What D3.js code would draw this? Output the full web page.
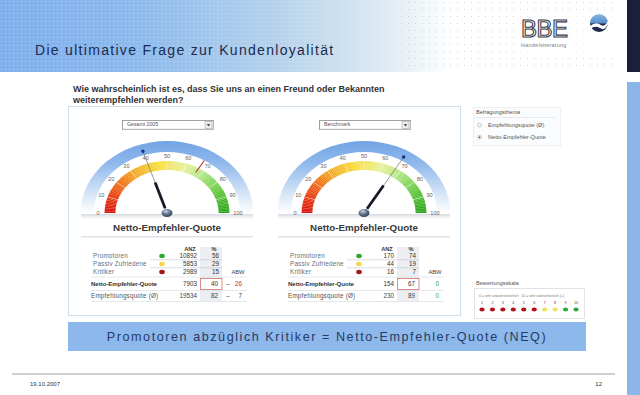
<!DOCTYPE html>
<html><head><meta charset="utf-8">
<script src="https://cdn.jsdelivr.net/npm/d3@7"></script>
<style>html,body{margin:0;padding:0;background:#fff;}svg{display:block;font-family:"Liberation Sans",Arial,sans-serif;}</style>
</head><body>
<svg id="c" width="640" height="395"></svg>
<script>
// ---------- data ----------
const slideTitle = "Die ultimative Frage zur Kundenloyalität";
const questionLines = ["Wie wahrscheinlich ist es, dass Sie uns an einen Freund oder Bekannten", "weiterempfehlen werden?"];
const dropdownLabels = ["Gesamt 2005", "Benchmark"];
const gaugeTitle = "Netto-Empfehler-Quote";
const gaugeTicks = [0, 10, 20, 30, 40, 50, 60, 70, 80, 90, 100];
const needleValues = [40, 67];
const markerValues = [67, null];
const segments = ["Promotoren", "Passiv Zufriedene", "Kritiker"];
const segmentColors = ["#2ea836", "#f2d84a", "#a3161a"];
const anzValues = [[10892, 5853, 2989], [170, 44, 16]];
const pctValues = [[56, 29, 15], [74, 19, 7]];
const neqAnz = [7903, 154];
const neqPct = [40, 67];
const neqAbw = [-26, 0];
const empfAnz = [19534, 230];
const empfPct = [82, 89];
const empfAbw = [-7, 0];
const themeOptions = ["Empfehlungsquote (Ø)", "Netto-Empfehler-Quote"];
const themeSelected = 1;
const scaleNumbers = [1, 2, 3, 4, 5, 6, 7, 8, 9, 10];
const scaleDotColors = ["#b0121a","#b0121a","#b0121a","#b0121a","#b0121a","#b0121a","#eee35a","#eee35a","#2ea836","#2ea836"];
const bannerText = "Promotoren abzüglich Kritiker = Netto-Empfehler-Quote (NEQ)";
const footerDate = "19.10.2007";
const pageNumber = "12";

// ---------- layout ----------
const svg = d3.select("#c");
const defs = svg.append("defs");

// header gradient
const hg = defs.append("linearGradient").attr("id","hg").attr("x1",0).attr("x2",1).attr("y1",0).attr("y2",0);
[[0,"#80afea"],[0.22,"#8ebaec"],[0.45,"#b8d3ea"],[0.62,"#e0ecf4"],[0.72,"#ffffff"]].forEach(s=>hg.append("stop").attr("offset",s[0]).attr("stop-color",s[1]));
const dp = defs.append("pattern").attr("id","dots").attr("width",4).attr("height",4).attr("patternUnits","userSpaceOnUse");
dp.append("rect").attr("x",1).attr("y",1).attr("width",1).attr("height",1).attr("fill","#ffffff").attr("opacity",0.35);
const dp2 = defs.append("pattern").attr("id","dots2").attr("width",7).attr("height",7).attr("patternUnits","userSpaceOnUse");
dp2.append("rect").attr("x",2).attr("y",2).attr("width",1).attr("height",1).attr("fill","#b8c4d0").attr("opacity",0.7);

svg.append("rect").attr("x",0).attr("y",0).attr("width",627).attr("height",72).attr("fill","url(#hg)");
svg.append("rect").attr("x",0).attr("y",0).attr("width",330).attr("height",72).attr("fill","url(#dots)");
svg.append("rect").attr("x",400).attr("y",0).attr("width",215).attr("height",72).attr("fill","url(#dots2)");
svg.append("rect").attr("x",627).attr("y",0).attr("width",13).attr("height",72).attr("fill","#1b203a");
svg.append("rect").attr("x",627).attr("y",82).attr("width",13).attr("height",313).attr("fill","#8ab6ea");

svg.append("text").attr("x",35).attr("y",55).attr("font-size",14).attr("letter-spacing",1.3)
  .attr("fill","#1c2b4e").text(slideTitle);

// logo
const logo = svg.append("g");
logo.append("rect").attr("x",518).attr("y",14).attr("width",96).attr("height",38).attr("fill","#ffffff").attr("opacity",0.6);
logo.append("text").attr("x",521).attr("y",37).attr("font-size",24).attr("fill","none").attr("stroke","#3a3d4c")
  .attr("stroke-width",1.1).attr("letter-spacing",-0.5).text("BBE");
logo.append("text").attr("x",521).attr("y",47).attr("font-size",5.4).attr("fill","#7a7d88").attr("letter-spacing",0.3).text("Handelsberatung");
const lg = defs.append("linearGradient").attr("id","lg").attr("x1",0).attr("x2",0).attr("y1",0).attr("y2",1);
lg.append("stop").attr("offset",0).attr("stop-color","#86b8e8");
lg.append("stop").attr("offset",0.5).attr("stop-color","#5b8fcc");
lg.append("stop").attr("offset",0.55).attr("stop-color","#1e2a4a");
lg.append("stop").attr("offset",1).attr("stop-color","#1e2a4a");
logo.append("circle").attr("cx",599).attr("cy",23).attr("r",9).attr("fill","url(#lg)");
logo.append("path").attr("d","M590,26 Q596,21 601,25 Q605,28 609,19 L609,22 Q605,32 600,28 Q595,25 590,29 Z").attr("fill","#ffffff");

// question
questionLines.forEach((t,i)=>svg.append("text").attr("x",73).attr("y",92+i*11).attr("font-size",9)
  .attr("font-weight","bold").attr("fill","#333").text(t));

// main panel
svg.append("rect").attr("x",68.5).attr("y",106.5).attr("width",392).attr("height",209).attr("fill","#fff")
  .attr("stroke","#cfdde8").attr("stroke-width",1);

// ---------- gauges ----------
const sx = 1.2;
const ang = d3.scaleLinear().domain([0,100]).range([-Math.PI/2, Math.PI/2]);
const colorScale = d3.scaleLinear().domain([0,10,20,30,45,60,70,85,100])
  .range(["#d8120e","#e63a10","#ef6a16","#f4a424","#f7de3c","#e8f19a","#b4e888","#62c83c","#2aa41c"]);
const pt = (v,r)=>[Math.sin(ang(v))*r*sx, -Math.cos(ang(v))*r];

const bg = defs.append("linearGradient").attr("id","bluearc").attr("gradientUnits","userSpaceOnUse")
  .attr("x1",0).attr("x2",0).attr("y1",-72).attr("y2",0);
[[0,"#72a4e4"],[0.3,"#8eb8ec"],[0.7,"#d0e2f6"],[1,"#ffffff"]].forEach(s=>bg.append("stop").attr("offset",s[0]).attr("stop-color",s[1]));
const baseG = defs.append("linearGradient").attr("id","baseg").attr("x1",0).attr("x2",0).attr("y1",0).attr("y2",1);
baseG.append("stop").attr("offset",0).attr("stop-color","#d6dbe0");
baseG.append("stop").attr("offset",1).attr("stop-color","#ffffff");
const hubG = defs.append("radialGradient").attr("id","hubg").attr("cx",0.4).attr("cy",0.3).attr("r",0.8);
hubG.append("stop").attr("offset",0).attr("stop-color","#c8d4e2");
hubG.append("stop").attr("offset",0.5).attr("stop-color","#5a6c84");
hubG.append("stop").attr("offset",1).attr("stop-color","#2c3648");

const gaugeCx = [167, 364];
const cy = 213;
const arc = d3.arc();

gaugeCx.forEach((cx, gi)=>{
  const g = svg.append("g");
  // dropdown
  const dx = cx - 45, dy = 120;
  g.append("rect").attr("x",dx+0.5).attr("y",dy+0.5).attr("width",91).attr("height",9).attr("fill","#fff")
    .attr("stroke","#8a8a8a").attr("stroke-width",0.8);
  g.append("path").attr("d",`M${dx+1},${dy+9} H${dx+91} V${dy+1}`).attr("fill","none").attr("stroke","#dcdcdc").attr("stroke-width",0.8);
  g.append("text").attr("x",dx+5).attr("y",dy+6.3).attr("font-size",5.2).attr("fill","#555").text(dropdownLabels[gi]);
  g.append("rect").attr("x",dx+83).attr("y",dy+1.5).attr("width",7).attr("height",7).attr("fill","#ececec").attr("stroke","#9a9a9a").attr("stroke-width",0.5);
  g.append("path").attr("d",`M${dx+84.8},${dy+4.3} h3.4 l-1.7,2 z`).attr("fill","#222");

  // base shading
  g.append("rect").attr("x",cx-86).attr("y",cy+1).attr("width",172).attr("height",5).attr("fill","url(#baseg)");

  const s = g.append("g").attr("transform",`translate(${cx},${cy}) scale(${sx},1)`);
  // blue outer band
  s.append("path").attr("d",arc({innerRadius:61,outerRadius:72,startAngle:-Math.PI/2,endAngle:Math.PI/2})).attr("fill","url(#bluearc)");
  // color band
  const steps = d3.range(0,100,1);
  s.selectAll(".seg").data(steps).join("path")
    .attr("d",v=>arc({innerRadius:43,outerRadius:52,startAngle:ang(v),endAngle:ang(v+1.05)}))
    .attr("fill",v=>colorScale(v+0.5));
  // separators
  s.selectAll(".sep").data(gaugeTicks.slice(1,-1)).join("line")
    .attr("x1",v=>pt(v,43)[0]/sx).attr("y1",v=>pt(v,43)[1])
    .attr("x2",v=>pt(v,52)[0]/sx).attr("y2",v=>pt(v,52)[1])
    .attr("stroke","#fff").attr("stroke-width",0.6).attr("vector-effect","non-scaling-stroke").attr("opacity",0.8);
  // marker
  if (markerValues[gi] != null) {
    const m = markerValues[gi];
    s.append("line").attr("x1",pt(m,47)[0]/sx).attr("y1",pt(m,47)[1]).attr("x2",pt(m,61)[0]/sx).attr("y2",pt(m,61)[1])
      .attr("stroke","#b8322e").attr("stroke-width",1.1).attr("vector-effect","non-scaling-stroke");
  }
  // tick labels
  g.selectAll(".tl").data(gaugeTicks).join("text")
    .attr("x",v=>cx+pt(v,57.5)[0] + (v===100?2:0)).attr("y",v=>cy+pt(v,57.5)[1]+2)
    .attr("text-anchor","middle").attr("font-size",5.6).attr("fill","#666").text(d=>d);
  // needle
  const nv = needleValues[gi];
  s.append("line").attr("x1",0).attr("y1",0).attr("x2",pt(nv,65)[0]/sx).attr("y2",pt(nv,65)[1])
    .attr("stroke","#555").attr("stroke-width",0.6).attr("vector-effect","non-scaling-stroke");
  s.append("line").attr("x1",pt(nv,5)[0]/sx).attr("y1",pt(nv,5)[1]).attr("x2",pt(nv,32)[0]/sx).attr("y2",pt(nv,32)[1])
    .attr("stroke","#151a24").attr("stroke-width",2.8).attr("vector-effect","non-scaling-stroke");
  g.append("circle").attr("cx",cx+pt(nv,65)[0]).attr("cy",cy+pt(nv,65)[1]).attr("r",1.7).attr("fill","#1a3080");
  g.append("ellipse").attr("cx",cx).attr("cy",cy).attr("rx",5.5).attr("ry",4).attr("fill","url(#hubg)");

  // gauge title
  g.append("text").attr("x",cx).attr("y",231).attr("text-anchor","middle").attr("font-size",9.8).attr("font-weight","bold")
    .attr("fill","#3a3a3a").text(gaugeTitle);
  g.append("rect").attr("x",cx-86).attr("y",236).attr("width",172).attr("height",2.5).attr("fill","url(#baseg)");

  // ---------- table ----------
  const ox = cx - 167;
  const t = g.append("g").attr("transform",`translate(${ox},0)`);
  const rowY = d3.scalePoint().domain(segments).range([258, 274]);
  t.append("rect").attr("x",200).attr("y",247).attr("width",22).attr("height",54).attr("fill","#eceef1");
  t.append("text").attr("x",190).attr("y",251).attr("text-anchor","middle").attr("font-size",5.6).attr("font-weight","bold").attr("fill","#333").text("ANZ");
  t.append("text").attr("x",214).attr("y",251).attr("text-anchor","middle").attr("font-size",5.6).attr("font-weight","bold").attr("fill","#333").text("%");
  segments.forEach((seg,i)=>{
    const y = rowY(seg);
    t.append("text").attr("x",93).attr("y",y).attr("font-size",6.3).attr("fill","#66707c").attr("letter-spacing",0.2).text(seg);
    t.append("ellipse").attr("cx",162).attr("cy",y-2).attr("rx",2.8).attr("ry",2.2).attr("fill",segmentColors[i]);
    t.append("text").attr("x",197).attr("y",y).attr("text-anchor","end").attr("font-size",6.3).attr("fill","#333").text(anzValues[gi][i]);
    t.append("text").attr("x",219).attr("y",y).attr("text-anchor","end").attr("font-size",6.3).attr("fill","#333").text(pctValues[gi][i]);
    if (i<2) t.append("line").attr("x1",150).attr("x2",222).attr("y1",y+1.8).attr("y2",y+1.8).attr("stroke","#b8c0c8").attr("stroke-width",0.5);
  });
  t.append("text").attr("x",238).attr("y",274).attr("text-anchor","middle").attr("font-size",5.8).attr("fill","#444").text("ABW");
  [277, 290.5, 301.5].forEach(y=>t.append("line").attr("x1",91).attr("x2",247).attr("y1",y).attr("y2",y).attr("stroke","#dde2e6").attr("stroke-width",0.8));
  // NEQ row
  t.append("text").attr("x",91).attr("y",286).attr("font-size",6.2).attr("font-weight","bold").attr("fill","#333").attr("letter-spacing",-0.1).text("Netto-Empfehler-Quote");
  t.append("text").attr("x",197).attr("y",286).attr("text-anchor","end").attr("font-size",6.3).attr("fill","#333").text(neqAnz[gi]);
  t.append("rect").attr("x",200.5).attr("y",278.5).attr("width",21.5).attr("height",11).attr("fill","#fff").attr("stroke","#d07070").attr("stroke-width",0.8);
  t.append("text").attr("x",218).attr("y",286).attr("text-anchor","end").attr("font-size",6.3).attr("fill","#333").text(neqPct[gi]);
  const abwCell = (y, v)=>{
    if (v < 0) {
      t.append("text").attr("x",228).attr("y",y).attr("text-anchor","middle").attr("font-size",6.3).attr("fill","#555").text("–");
    }
    t.append("text").attr("x",242).attr("y",y).attr("text-anchor","end").attr("font-size",6.3)
      .attr("fill", v===0 ? "#3aa83a" : (y<290 ? "#d02828" : "#444")).text(Math.abs(v));
  };
  abwCell(286, neqAbw[gi]);
  // Empfehlungsquote row
  t.append("text").attr("x",91).attr("y",298).attr("font-size",6.3).attr("fill","#555").attr("letter-spacing",0.2).text("Empfehlungsquote (Ø)");
  t.append("text").attr("x",197).attr("y",298).attr("text-anchor","end").attr("font-size",6.3).attr("fill","#444").text(empfAnz[gi]);
  t.append("text").attr("x",218).attr("y",298).attr("text-anchor","end").attr("font-size",6.3).attr("fill","#444").text(empfPct[gi]);
  abwCell(298, empfAbw[gi]);
});

// ---------- right panel ----------
svg.append("rect").attr("x",473.5).attr("y",107.5).attr("width",87).attr("height",38).attr("fill","#fbfcfd").attr("stroke","#edf0f3");
svg.append("text").attr("x",476).attr("y",114).attr("font-size",5.6).attr("fill","#555").text("Befragungsthema");
svg.append("line").attr("x1",475).attr("x2",555).attr("y1",117.5).attr("y2",117.5).attr("stroke","#d8dde2").attr("stroke-width",0.6);
themeOptions.forEach((o,i)=>{
  const y = 127 + i*12;
  svg.append("circle").attr("cx",479.5).attr("cy",y-1.8).attr("r",1.8).attr("fill","#fff").attr("stroke","#888").attr("stroke-width",0.5);
  if (i===themeSelected) svg.append("circle").attr("cx",479.5).attr("cy",y-1.8).attr("r",0.8).attr("fill","#333");
  svg.append("text").attr("x",488).attr("y",y).attr("font-size",5.6).attr("fill","#555").text(o);
});

svg.append("text").attr("x",476).attr("y",285).attr("font-size",5.6).attr("fill","#555").text("Bewertungsskala");
svg.append("rect").attr("x",474.5).attr("y",288.5).attr("width",110).attr("height",30).attr("fill","#fff").attr("stroke","#dfe3e7");
svg.append("text").attr("x",479).attr("y",297).attr("font-size",3.4).attr("fill","#777").text("0 = sehr unwahrscheinlich  ·  10 = sehr wahrscheinlich (+)");
const sxs = d3.scalePoint().domain(scaleNumbers).range([482, 576]);
svg.selectAll(".sn").data(scaleNumbers).join("text").attr("x",d=>sxs(d)).attr("y",304).attr("text-anchor","middle")
  .attr("font-size",3.8).attr("fill","#8a3030").text(d=>d);
svg.selectAll(".sd").data(scaleNumbers).join("ellipse").attr("cx",d=>sxs(d)).attr("cy",309.5).attr("rx",2.6).attr("ry",2.1)
  .attr("fill",(d,i)=>scaleDotColors[i]);

// ---------- banner ----------
svg.append("rect").attr("x",68).attr("y",322).attr("width",518).attr("height",29).attr("fill","#8cb8ec");
svg.append("text").attr("x",327).attr("y",341).attr("text-anchor","middle").attr("font-size",12.6).attr("letter-spacing",1.55)
  .attr("fill","#283a66").text(bannerText);

// ---------- footer ----------
svg.append("rect").attr("x",12).attr("y",373).attr("width",603).attr("height",2).attr("fill","#cfcfcf");
svg.append("text").attr("x",30).attr("y",386).attr("font-size",6).attr("fill","#333").text(footerDate);
svg.append("text").attr("x",602).attr("y",386).attr("text-anchor","end").attr("font-size",6).attr("fill","#333").text(pageNumber);
</script>
</body></html>
